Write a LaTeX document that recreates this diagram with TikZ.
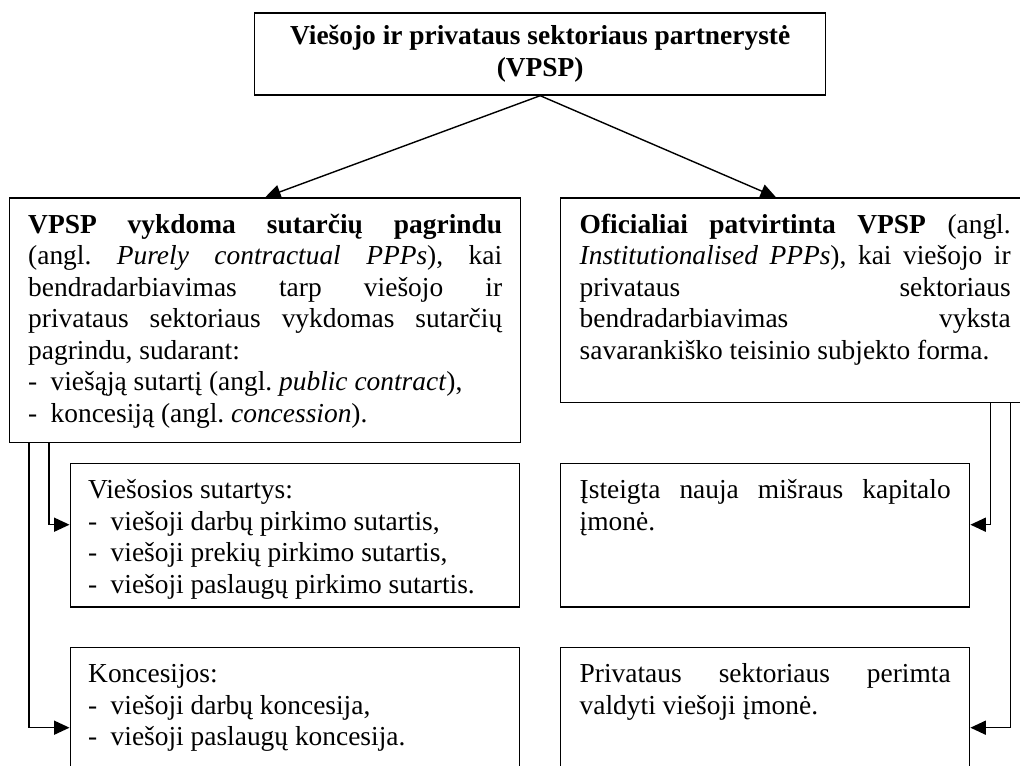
\documentclass[tikz,border=0pt]{standalone}
\usepackage{fontspec}
\setmainfont{Liberation Serif}
\usetikzlibrary{arrows.meta, positioning, calc}

% one unit = one pixel of the 1020x765 layout
\newlength{\px}
\setlength{\px}{0.025cm}
\hbadness=10000
\frenchspacing
\newcommand{\dashitem}{\makebox[0.82em][l]{-}}

\begin{document}
\begin{tikzpicture}[x=\px, y=\px, font={\fontsize{19.5pt}{22.4pt}\selectfont},
  box/.style={draw, line width=1pt, anchor=north west, inner ysep=13.4\px, inner xsep=18.5\px},
  arr/.style={line width=1pt, -{Triangle[length=11pt, width=10pt]}}]

  \useasboundingbox (0,0) rectangle (1020,765);
  \clip (0,0) rectangle (1020,765);

  % Top box
  \node[draw, line width=1pt, anchor=north west, minimum width=571\px, minimum height=82\px, align=center]
        (vpsp) at (254,752.7)
        {\textbf{Viešojo ir privataus sektoriaus partnerystė}\\\textbf{(VPSP)}};

  % Contract based PPP (left)
  \node[box] (contract) at (9,567.7)
        {\parbox[t][217.9\px][t]{474\px}{\strut\textbf{VPSP vykdoma sutarčių pagrindu}\linebreak
         (angl. \textit{Purely contractual PPPs}), kai\linebreak
         bendradarbiavimas tarp viešojo ir\linebreak
         privataus sektoriaus vykdomas sutarčių\linebreak
         pagrindu, sudarant:\\
         \dashitem viešąją sutartį (angl. \textit{public contract}),\\
         \dashitem koncesiją (angl. \textit{concession}).}};

  % Institutionalised PPP (right, runs past the edge)
  \node[box, inner xsep=19\px] (inst) at (560,567.7)
        {\parbox[t][177.9\px][t]{431\px}{\strut\textbf{Oficialiai patvirtinta VPSP} (angl.\linebreak
         \textit{Institutionalised PPPs}), kai viešojo ir\linebreak
         privataus sektoriaus\linebreak
         bendradarbiavimas vyksta\linebreak
         savarankiško teisinio subjekto forma.}};

  % Lower left boxes
  \node[box, inner xsep=18\px] (pubcontr) at (69.5,302.3)
        {\parbox[t][116.8\px][t]{413\px}{\strut Viešosios sutartys:\\
         \dashitem viešoji darbų pirkimo sutartis,\\
         \dashitem viešoji prekių pirkimo sutartis,\\
         \dashitem viešoji paslaugų pirkimo sutartis.}};

  \node[box, inner xsep=18\px] (concess) at (69.5,118.3)
        {\parbox[t][140\px][t]{413\px}{\strut Koncesijos:\\
         \dashitem viešoji darbų koncesija,\\
         \dashitem viešoji paslaugų koncesija.}};

  % Lower right boxes
  \node[box, inner xsep=19\px] (newcomp) at (560,302.3)
        {\parbox[t][116.8\px][t]{371\px}{\strut Įsteigta nauja mišraus kapitalo\linebreak
         įmonė.}};

  \node[box, inner xsep=19\px] (takeover) at (560,118.3)
        {\parbox[t][140\px][t]{371\px}{\strut Privataus sektoriaus perimta\linebreak
         valdyti viešoji įmonė.}};

  % Top arrows
  \draw[arr] (vpsp.south) -- (contract.north);
  \draw[arr] (vpsp.south) -- ($(inst.north west)+(216,0)$);

  % Left branch
  \draw[arr] ($(contract.south west)+(40,0)$) |- ($(pubcontr.north west)+(0,-62)$);
  \draw[arr] ($(contract.south west)+(20,0)$) |- ($(concess.north west)+(0,-81)$);

  % Right branch
  \draw[arr] ($(inst.south east)+(-40,0)$) |- ($(newcomp.north east)+(0,-62)$);
  \draw[arr] ($(inst.south east)+(-20,0)$) |- ($(takeover.north east)+(0,-81)$);

\end{tikzpicture}
\end{document}
